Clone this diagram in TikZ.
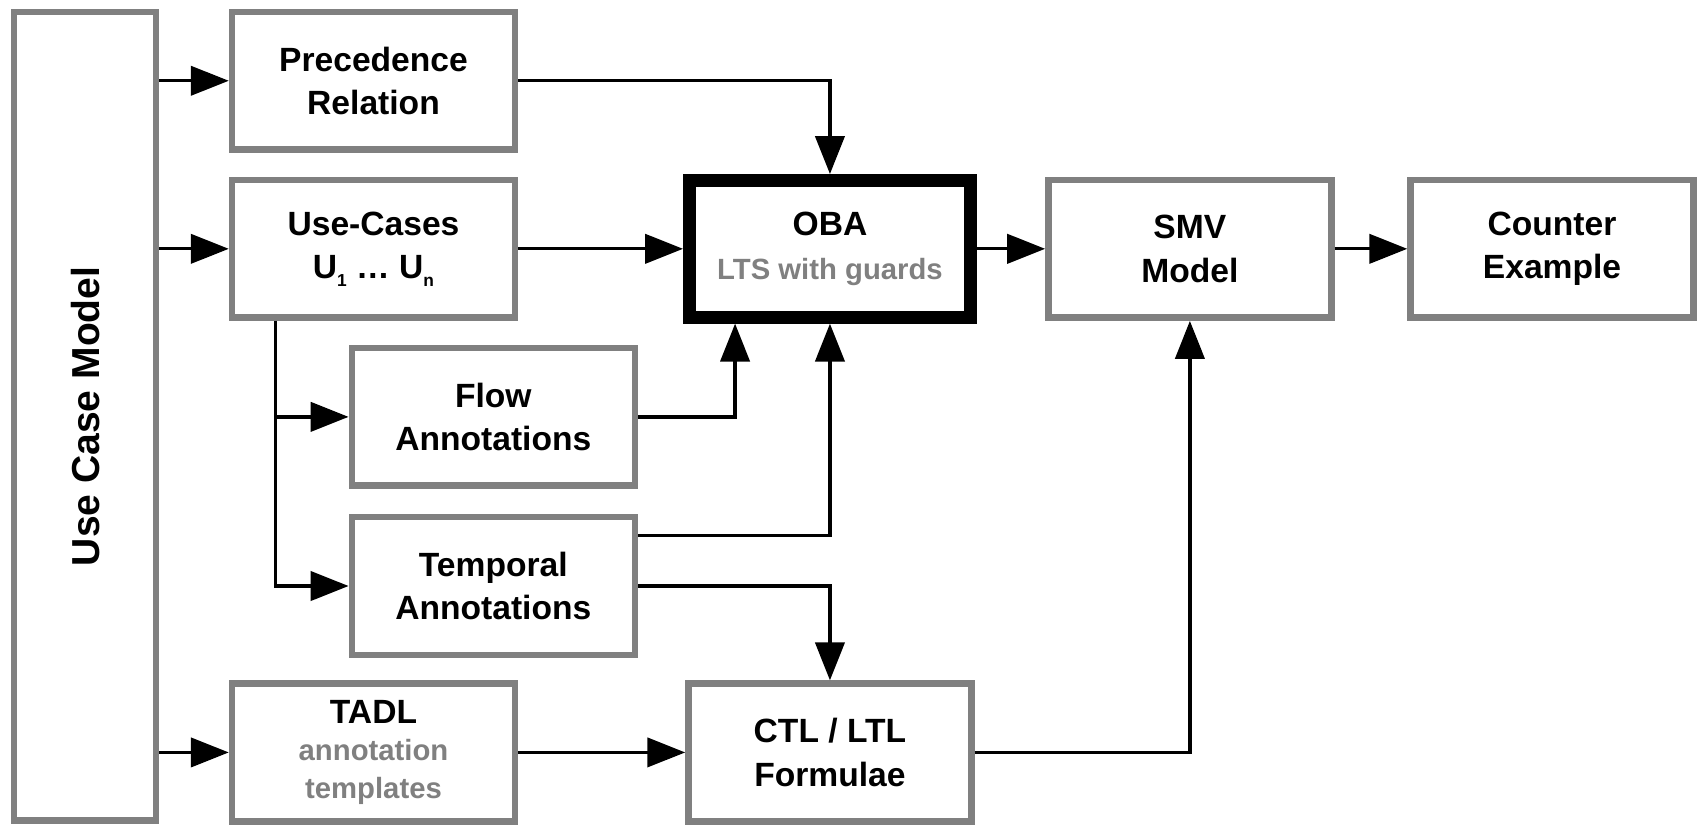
\documentclass[tikz,border=0pt]{standalone}
\usepackage{fontspec}
\setmainfont{Liberation Sans}
\usetikzlibrary{arrows.meta}
\usetikzlibrary{calc}
\usetikzlibrary{positioning}
\definecolor{boxgray}{HTML}{808080}
\newcommand{\subline}[1]{\textcolor{boxgray}{\fontsize{27}{34}\selectfont #1}}
\newcommand{\idx}[1]{\raisebox{-7pt}{\fontsize{16}{16}\selectfont #1}}

\begin{document}
\begin{tikzpicture}[x=1pt, y=1pt,
    box/.style={draw=boxgray, line width=6pt, fill=white, inner sep=0pt,
      minimum width=261pt, minimum height=127pt, align=center,
      font=\fontsize{31}{40}\selectfont\bfseries},
    core/.style={box, draw=black, line width=12pt, minimum width=259pt, minimum height=126pt},
    conn/.style={-{Triangle[length=35pt, width=27pt]}, line width=3pt}]
        \useasboundingbox (0,0) rectangle (1568,-764);

        \node[box, minimum width=131pt, minimum height=746pt] (ucm) at (78.5,-384)
            {\fontsize{36}{40}\selectfont\rotatebox{90}{Use Case Model}};
        \node[box] (prec) at (344.5,-74.5) {Precedence\\Relation};
        \node[box, below=22pt of prec] (uc) {Use-Cases\\U\idx{1} \dots\ U\idx{n}};
        \node[core, right=152pt of uc] (oba) {OBA\\\subline{LTS with guards}};
        \node[box, right=63pt of oba] (smv) {SMV\\Model};
        \node[box, right=67pt of smv] (cex) {Counter\\Example};
        \node[box] (flow) at (455,-384.5) {Flow\\Annotations};
        \node[box, below=23pt of flow] (temp) {Temporal\\Annotations};
        \node[box, font=\fontsize{31}{35}\selectfont\bfseries] (tadl) at (344.5,-694)
            {TADL\\\subline{annotation}\\\subline{templates}};
        \node[box] (ctl) at (765.5,-694) {CTL / LTL\\Formulae};

        % fan out of the use case model
        \draw[conn] (ucm.east |- prec.west) -- (prec.west);
        \draw[conn] (ucm.east |- uc.west) -- (uc.west);
        \draw[conn] (ucm.east |- tadl.west) -- (tadl.west);

        % into the OBA
        \draw[conn] (prec.east) -| (oba.north);
        \draw[conn] (uc.east) -- (oba.west);
        \coordinate (split) at ([xshift=43pt]uc.south west);
        \draw[conn] (split) |- (flow.west);
        \draw[conn] (split) |- (temp.west);
        \coordinate (obaleft) at ([xshift=-87.5pt]oba.south);
        \draw[conn] (flow.east) -| (obaleft);
        \draw[conn] ([yshift=46.5pt]temp.east) -| (oba.south);

        % formulae and model checking
        \draw[conn] (temp.east) -| (ctl.north);
        \draw[conn] (tadl.east) -- (ctl.west);
        \draw[conn] (ctl.east) -| (smv.south);
        \draw[conn] (oba.east) -- (smv.west);
        \draw[conn] (smv.east) -- (cex.west);
    \end{tikzpicture}
\end{document}
